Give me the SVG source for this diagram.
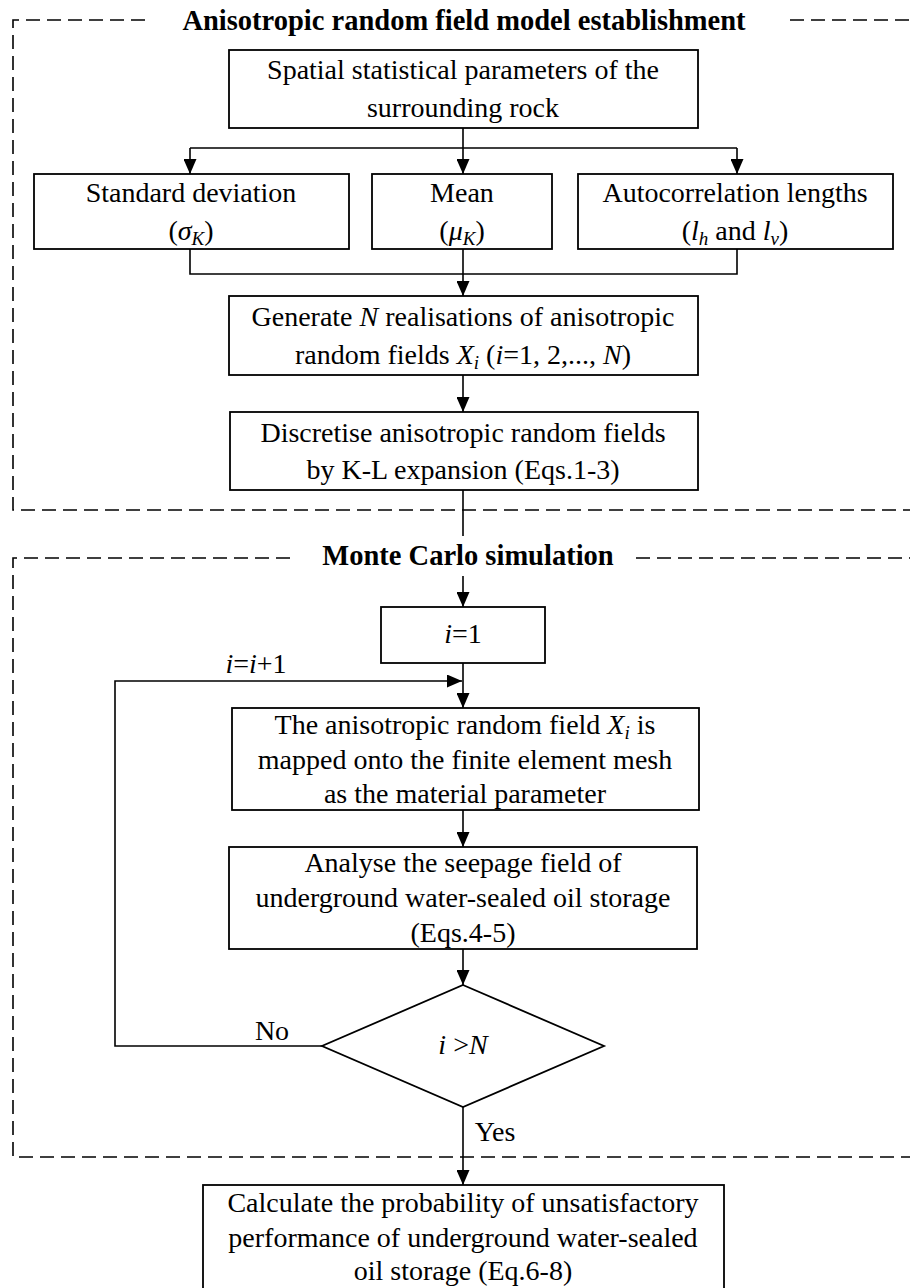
<svg xmlns="http://www.w3.org/2000/svg" width="910" height="1288" viewBox="0 0 910 1288">
<defs>
<marker id="arr" viewBox="0 0 15 13" refX="15" refY="6.5" markerWidth="15" markerHeight="13" markerUnits="userSpaceOnUse" orient="auto">
<path d="M0,0 L15,6.5 L0,13 z" fill="#000"/>
</marker>
<style>
.box{fill:#fff;stroke:#000;stroke-width:1.8}
.ln{fill:none;stroke:#000;stroke-width:1.6}
.dash{fill:none;stroke:#000;stroke-width:1.6;stroke-dasharray:14 7}
.t{font-family:"Liberation Serif","Times New Roman",serif;font-size:28px;fill:#000;text-anchor:middle}
.tb{font-family:"Liberation Serif","Times New Roman",serif;font-size:28.5px;font-weight:bold;fill:#000;text-anchor:middle}
.it{font-style:italic}
.sub{font-style:italic;font-size:19px}
</style>
</defs>
<rect width="910" height="1288" fill="#fff"/>

<g id="frames">
<path class="dash" d="M145,20 H13 V510 H910"/>
<path class="dash" d="M790,20 H910"/>
<path class="dash" d="M290,558 H13 V1157 H910"/>
<path class="dash" d="M636,558 H910"/>
<text class="tb" x="464" y="30">Anisotropic random field model establishment</text>
<text class="tb" x="468" y="565">Monte Carlo simulation</text>
</g>

<g id="connectors">
<path class="ln" d="M463,128 V148 M190,148 H737"/>
<path class="ln" d="M190,148 V174" marker-end="url(#arr)"/>
<path class="ln" d="M463,148 V174" marker-end="url(#arr)"/>
<path class="ln" d="M737,148 V174" marker-end="url(#arr)"/>
<path class="ln" d="M190,249 V274 H737 V249"/>
<path class="ln" d="M463,249 V296" marker-end="url(#arr)"/>
<path class="ln" d="M463,375 V412" marker-end="url(#arr)"/>
<path class="ln" d="M463,490 V536"/>
<path class="ln" d="M463,576 V607" marker-end="url(#arr)"/>
<path class="ln" d="M463,663 V708" marker-end="url(#arr)"/>
<path class="ln" d="M322,1046 H115 V681 H462" marker-end="url(#arr)"/>
<path class="ln" d="M463,810 V847" marker-end="url(#arr)"/>
<path class="ln" d="M463,949 V985" marker-end="url(#arr)"/>
<path class="ln" d="M463,1107 V1185" marker-end="url(#arr)"/>
<text class="t" x="256" y="673"><tspan class="it">i</tspan>=<tspan class="it">i</tspan>+1</text>
<text class="t" x="272" y="1040">No</text>
<text class="t" x="495" y="1141">Yes</text>
</g>

<g id="n-params">
<rect class="box" x="229" y="50" width="469" height="78"/>
<text class="t" x="463" y="79">Spatial statistical parameters of the</text>
<text class="t" x="463" y="117">surrounding rock</text>
</g>

<g id="n-std">
<rect class="box" x="34" y="174" width="315" height="75"/>
<text class="t" x="191" y="202">Standard deviation</text>
<text class="t" x="191" y="240">(<tspan class="it">σ</tspan><tspan class="sub" dy="5">K</tspan><tspan dy="-5">)</tspan></text>
</g>

<g id="n-mean">
<rect class="box" x="372" y="174" width="180" height="75"/>
<text class="t" x="462" y="202">Mean</text>
<text class="t" x="462" y="240">(<tspan class="it">μ</tspan><tspan class="sub" dy="5">K</tspan><tspan dy="-5">)</tspan></text>
</g>

<g id="n-acl">
<rect class="box" x="578" y="174" width="315" height="75"/>
<text class="t" x="735" y="202">Autocorrelation lengths</text>
<text class="t" x="735" y="240">(<tspan class="it">l</tspan><tspan class="sub" dy="5">h</tspan><tspan dy="-5"> and </tspan><tspan class="it">l</tspan><tspan class="sub" dy="5">v</tspan><tspan dy="-5">)</tspan></text>
</g>

<g id="n-generate">
<rect class="box" x="229" y="296" width="469" height="79"/>
<text class="t" x="463" y="326">Generate <tspan class="it">N</tspan> realisations of anisotropic</text>
<text class="t" x="463" y="364">random fields <tspan class="it">X</tspan><tspan class="sub" dy="5">i</tspan><tspan dy="-5"> (</tspan><tspan class="it">i</tspan>=1, 2,..., <tspan class="it">N</tspan>)</text>
</g>

<g id="n-discretise">
<rect class="box" x="230" y="412" width="468" height="78"/>
<text class="t" x="463" y="442">Discretise anisotropic random fields</text>
<text class="t" x="463" y="479">by K-L expansion (Eqs.1-3)</text>
</g>

<g id="n-init">
<rect class="box" x="381" y="607" width="164" height="56"/>
<text class="t" x="463" y="643"><tspan class="it">i</tspan>=1</text>
</g>

<g id="n-map">
<rect class="box" x="232" y="708" width="467" height="102"/>
<text class="t" x="465" y="734">The anisotropic random field <tspan class="it">X</tspan><tspan class="sub" dy="5">i</tspan><tspan dy="-5"> is</tspan></text>
<text class="t" x="465" y="769">mapped onto the finite element mesh</text>
<text class="t" x="465" y="803">as the material parameter</text>
</g>

<g id="n-seepage">
<rect class="box" x="229" y="847" width="468" height="102"/>
<text class="t" x="463" y="872">Analyse the seepage field of</text>
<text class="t" x="463" y="907">underground water-sealed oil storage</text>
<text class="t" x="463" y="942">(Eqs.4-5)</text>
</g>

<g id="n-decision">
<path class="box" d="M463,985 L604,1046 L463,1107 L322,1046 Z"/>
<text class="t" x="463" y="1054"><tspan class="it">i</tspan> &gt;<tspan class="it">N</tspan></text>
</g>

<g id="n-prob">
<rect class="box" x="203" y="1185" width="521" height="110"/>
<text class="t" x="463" y="1212">Calculate the probability of unsatisfactory</text>
<text class="t" x="463" y="1247">performance of underground water-sealed</text>
<text class="t" x="463" y="1280">oil storage (Eq.6-8)</text>
</g>
</svg>
